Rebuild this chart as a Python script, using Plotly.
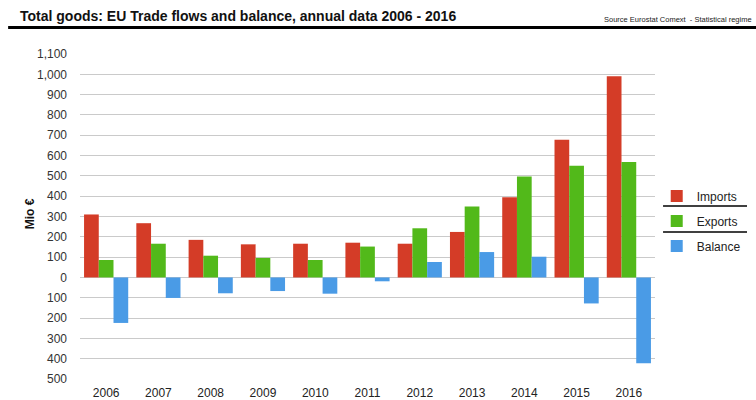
import plotly.graph_objects as go

# Annual EU trade in goods, million euro
years = ["2006", "2007", "2008", "2009", "2010", "2011",
         "2012", "2013", "2014", "2015", "2016"]
imports = [310, 267, 185, 163, 166, 171, 166, 224, 395, 678, 991]
exports = [86, 166, 107, 96, 86, 152, 242, 349, 497, 550, 568]
balance = [-224, -101, -78, -67, -80, -19, 76, 125, 102, -128, -423]

# y ticks: negative values are labelled by magnitude
tick_values = list(range(-500, 1101, 100))
tick_labels = [f"{abs(v):,}" for v in tick_values]

FONT = "Liberation Sans, Arial, sans-serif"

fig = go.Figure()
series = [
    ("Imports", imports, "#D43C27"),
    ("Exports", exports, "#52B91A"),
    ("Balance", balance, "#4A9BE6"),
]
for name, values, colour in series:
    fig.add_trace(go.Bar(
        x=years, y=values, name=name, legendgroup=name,
        marker=dict(color=colour, line=dict(width=0)),
    ))

fig.update_layout(
    width=756, height=400,
    margin=dict(l=80, r=101, t=54, b=21, autoexpand=False),
    paper_bgcolor="white", plot_bgcolor="white",
    barmode="group", bargap=0.155, bargroupgap=0,
    font=dict(family=FONT, size=12, color="#222222"),
    title=dict(
        text="Total goods: EU Trade flows and balance, annual data 2006 - 2016",
        x=20 / 756, xanchor="left", xref="container",
        y=1 - 16.5 / 400, yanchor="middle", yref="container",
        font=dict(family=FONT, size=14, color="#111111", weight="bold"),
    ),
    legend=dict(
        x=1.003, xanchor="left", y=0.486, yanchor="middle",
        font=dict(family=FONT, size=12, color="#222222"),
        tracegroupgap=6, bgcolor="rgba(0,0,0,0)",
    ),
    showlegend=True,
)

fig.update_xaxes(
    type="category", showgrid=False, ticks="", automargin=False,
    showline=True, linecolor="white", linewidth=3,
    tickfont=dict(family=FONT, size=12, color="#222222"),
    ticklabelstandoff=1,
)
fig.update_yaxes(
    range=[-500, 1100], tickvals=tick_values, ticktext=tick_labels,
    showgrid=True, gridcolor="#CACACA", gridwidth=1.3, automargin=False,
    zeroline=False, ticks="", ticklabelstandoff=12,
    tickfont=dict(family=FONT, size=12, color="#333333"),
)

# axis title
fig.add_annotation(
    text="<b>Mio €</b>", textangle=-90, showarrow=False,
    xref="paper", yref="paper", x=-0.087, y=0.51,
    xanchor="center", yanchor="middle",
    font=dict(family=FONT, size=12, color="#111111"),
)

# source note, top right
fig.add_annotation(
    text="Source Eurostat Comext  - Statistical regime", showarrow=False,
    xref="paper", yref="paper", x=1.172, y=1.105,
    xanchor="right", yanchor="middle",
    font=dict(family=FONT, size=7.5, color="#222222"),
)

# heavy rule under the title
fig.add_shape(type="line", xref="paper", yref="paper",
              x0=-0.125, x1=1.18, y0=1.0816, y1=1.0816,
              line=dict(color="black", width=3))

# separators between legend entries
for yp in (0.532, 0.452):
    fig.add_shape(type="line", xref="paper", yref="paper",
                  x0=1.014, x1=1.16, y0=yp, y1=yp,
                  line=dict(color="black", width=1.5))

fig.write_html("out.html")
